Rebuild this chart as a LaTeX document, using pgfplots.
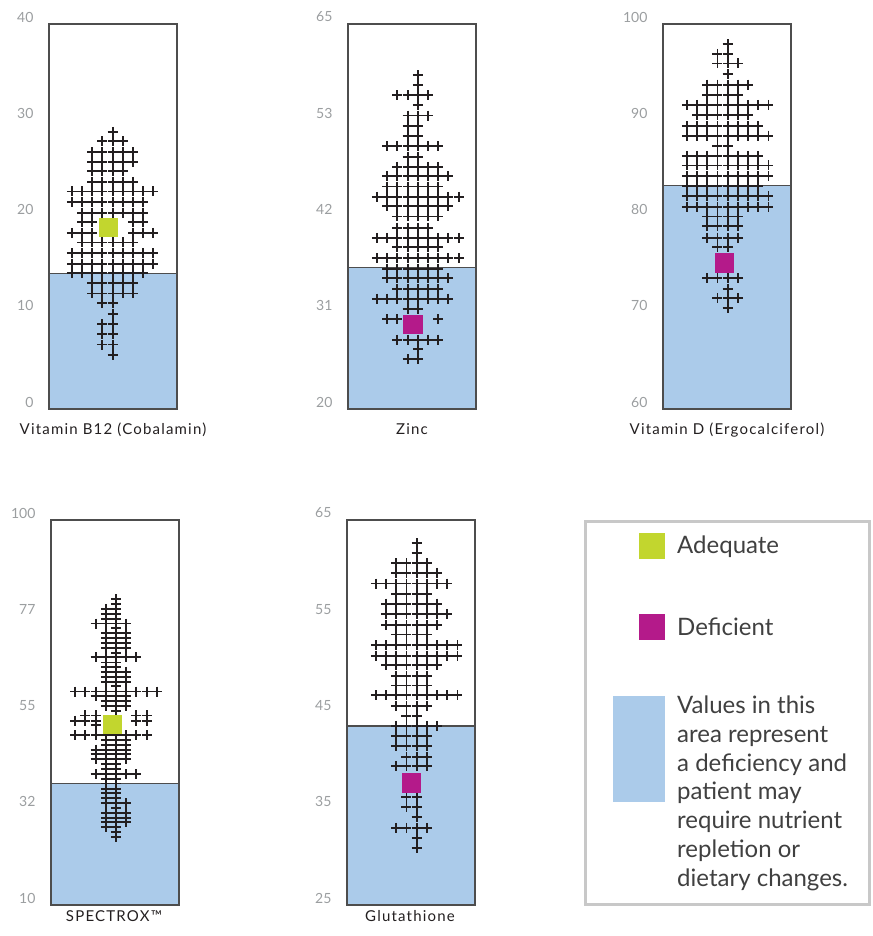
\documentclass[border=0pt]{standalone}
\usepackage{pgfplots}
\pgfplotsset{compat=1.18}
\usepackage{fontspec}
\setmainfont{Lato}
\newfontfamily\titlefont[LetterSpace=8]{Lato}
\definecolor{defblue}{HTML}{ABCBEA}
\definecolor{adeq}{HTML}{C2D62E}
\definecolor{defic}{HTML}{B41A8A}
\definecolor{markcol}{HTML}{231F20}
\definecolor{framecol}{HTML}{4D4D4D}
\definecolor{tickcol}{HTML}{9B9EA0}
\definecolor{legborder}{HTML}{C8C8C8}
\definecolor{legtext}{HTML}{404040}
\pgfplotsset{
 panel/.style={scale only axis, width=128pt, height=385pt, anchor=south west, axis on top,
   xtick=\empty, major tick length=0pt, clip=true,
   axis line style={draw=framecol, line width=1.2pt},
   yticklabel style={font=\fontsize{14}{16}\selectfont, text=tickcol, xshift=-12pt, yshift=7pt}},
 crosses/.style={only marks, mark=+, mark size=5pt, draw=markcol, line width=1.9pt,
   mark options={draw=markcol, line width=1.9pt, solid}},
 patient/.style={only marks, mark=square*, mark size=9.2pt, draw=#1, fill=#1, line width=0.6pt,
   mark options={fill=#1, draw=#1, line width=0.6pt, solid}},
 deficit/.style={fill=defblue, draw=none},
 dline/.style={draw=framecol, line width=1.2pt},
}
\begin{document}
\begin{tikzpicture}
\path[use as bounding box] (0pt,0pt) rectangle (872pt,936pt);

% ---------- Vitamin B12 ----------
\begin{axis}[panel, at={(49pt,527pt)}, xmin=-6.24, xmax=6.31, ymin=0, ymax=40,
  ytick={0,10,20,30,40}, yticklabels={0,10,20,30,40}]
\addplot[deficit] coordinates {(-10,0) (10,0) (10,14.1) (-10,14.1) (-10,0)};
\addplot[dline] coordinates {(-10,14.1) (10,14.1)};
\addplot[crosses] coordinates {
(0,28.8)
(-1,27.8)(0,27.8)(1,27.8)
(-2,26.7)(-1,26.7)(0,26.7)(1,26.7)(2,26.7)
(-2,25.7)(-1,25.7)(0,25.7)(1,25.7)(2,25.7)
(-2,24.7)(-1,24.7)(0,24.7)(1,24.7)
(-2,23.6)(-1,23.6)(0,23.6)(1,23.6)(2,23.6)
(-4,22.6)(-3,22.6)(-2,22.6)(-1,22.6)(0,22.6)(1,22.6)(2,22.6)(3,22.6)(4,22.6)
(-4,21.5)(-3,21.5)(-2,21.5)(-1,21.5)(0,21.5)(1,21.5)(2,21.5)(3,21.5)
(-3,20.4)(-2,20.4)(-1,20.4)(0,20.4)(1,20.4)(2,20.4)(3,20.4)
(-3,19.4)(-2,19.4)(2,19.4)(3,19.4)
(-4,18.3)(-3,18.3)(-2,18.3)(2,18.3)(3,18.3)(4,18.3)
(-3,17.3)(-2,17.3)(-1,17.3)(0,17.3)(1,17.3)(2,17.3)
(-4,16.2)(-3,16.2)(-2,16.2)(-1,16.2)(0,16.2)(1,16.2)(2,16.2)(3,16.2)(4,16.2)
(-4,15.1)(-3,15.1)(-2,15.1)(-1,15.1)(0,15.1)(1,15.1)(2,15.1)(3,15.1)(4,15.1)
(-4,14.1)(-3,14.1)(-2,14.1)(-1,14.1)(0,14.1)(1,14.1)(2,14.1)(3,14.1)
(-2,13.1)(-1,13.1)(0,13.1)(1,13.1)(2,13.1)
(-2,12.0)(-1,12.0)(0,12.0)(1,12.0)(2,12.0)
(-1,11.0)(0,11.0)
(0,9.9)
(-1,8.8)(0,8.8)
(-1,7.8)(0,7.8)
(-1,6.7)(0,6.7)
(0,5.6)
};
\addplot[patient=adeq] coordinates {(-0.45,18.9)};
\end{axis}

% ---------- Zinc ----------
\begin{axis}[panel, at={(348pt,527pt)}, xmin=-6.84, xmax=5.70, ymin=20, ymax=65,
  ytick={20,31.25,42.5,53.75,65}, yticklabels={20,31,42,53,65}]
\addplot[deficit] coordinates {(-10,20) (10,20) (10,36.5) (-10,36.5) (-10,20)};
\addplot[dline] coordinates {(-10,36.5) (10,36.5)};
\addplot[crosses] coordinates {
(0,59.0)
(0,57.9)
(-2,56.7)(-1,56.7)(0,56.7)(1,56.7)
(0,55.5)
(-1,54.3)(0,54.3)(1,54.3)
(-1,53.1)(0,53.1)
(-1,51.9)(0,51.9)
(-3,50.7)(-2,50.7)(-1,50.7)(0,50.7)(1,50.7)(2,50.7)
(-1,49.5)(0,49.5)
(-2,48.3)(-1,48.3)(0,48.3)(1,48.3)(2,48.3)
(-3,47.2)(-2,47.2)(-1,47.2)(0,47.2)(1,47.2)(2,47.2)(3,47.2)
(-3,46.0)(-2,46.0)(-1,46.0)(0,46.0)(1,46.0)(2,46.0)
(-4,44.8)(-3,44.8)(-2,44.8)(-1,44.8)(0,44.8)(1,44.8)(2,44.8)(3,44.8)(4,44.8)
(-3,43.7)(-2,43.7)(-1,43.7)(0,43.7)(1,43.7)(2,43.7)(3,43.7)
(-2,42.5)(-1,42.5)(0,42.5)(1,42.5)(2,42.5)
(-2,41.2)(-1,41.2)(0,41.2)(1,41.2)
(-4,40.0)(-3,40.0)(-2,40.0)(-1,40.0)(0,40.0)(1,40.0)(2,40.0)(3,40.0)(4,40.0)
(-2,38.9)(-1,38.9)(0,38.9)(1,38.9)(2,38.9)
(-4,37.6)(-3,37.6)(-2,37.6)(-1,37.6)(0,37.6)(1,37.6)(2,37.6)(3,37.6)(4,37.6)
(-3,36.4)(-2,36.4)(-1,36.4)(0,36.4)(1,36.4)(2,36.4)
(-3,35.3)(-2,35.3)(-1,35.3)(0,35.3)(1,35.3)(2,35.3)(3,35.3)
(-2,34.0)(-1,34.0)(0,34.0)(1,34.0)(2,34.0)
(-4,32.9)(-3,32.9)(-2,32.9)(-1,32.9)(0,32.9)(1,32.9)(2,32.9)(3,32.9)
(-1,31.7)(0,31.7)
(-3,30.5)(-2,30.5)(2,30.5)
(-2,28.1)(-1,28.1)(0,28.1)(1,28.1)(2,28.1)
(0,27.0)
(-1,25.8)(0,25.8)
};
\addplot[patient=defic] coordinates {(-0.49,29.9)};
\end{axis}

% ---------- Vitamin D ----------
\begin{axis}[panel, at={(663pt,527pt)}, xmin=-6.34, xmax=6.21, ymin=60, ymax=100,
  ytick={60,70,80,90,100}, yticklabels={60,70,80,90,100}]
\addplot[deficit] coordinates {(-10,60) (10,60) (10,83.2) (-10,83.2) (-10,60)};
\addplot[dline] coordinates {(-10,83.2) (10,83.2)};
\addplot[crosses] coordinates {
(0,97.9)
(-1,96.9)(0,96.9)
(-1,95.9)(0,95.9)(1,95.9)
(0,94.8)
(-2,93.7)(-1,93.7)(0,93.7)(1,93.7)(2,93.7)
(-2,92.6)(-1,92.6)(0,92.6)(1,92.6)
(-4,91.6)(-3,91.6)(-2,91.6)(-1,91.6)(0,91.6)(1,91.6)(2,91.6)(3,91.6)(4,91.6)
(-3,90.5)(-2,90.5)(-1,90.5)(0,90.5)(1,90.5)(2,90.5)
(-4,89.4)(-3,89.4)(-2,89.4)(-1,89.4)(0,89.4)(1,89.4)(2,89.4)(3,89.4)
(-4,88.4)(-3,88.4)(-2,88.4)(-1,88.4)(0,88.4)(1,88.4)(2,88.4)(3,88.4)(4,88.4)
(-1,87.3)(0,87.3)
(-4,86.3)(-3,86.3)(-2,86.3)(-1,86.3)(0,86.3)(1,86.3)(2,86.3)(3,86.3)
(-4,85.3)(-3,85.3)(-2,85.3)(-1,85.3)(0,85.3)(1,85.3)(2,85.3)(3,85.3)(4,85.3)
(-4,84.2)(-3,84.2)(-2,84.2)(-1,84.2)(0,84.2)(1,84.2)(2,84.2)(3,84.2)(4,84.2)
(-4,83.2)(-3,83.2)(-2,83.2)(-1,83.2)(0,83.2)(1,83.2)(2,83.2)(3,83.2)
(-4,82.1)(-3,82.1)(-2,82.1)(-1,82.1)(0,82.1)(1,82.1)(2,82.1)(3,82.1)(4,82.1)
(-4,81.0)(-3,81.0)(-2,81.0)(-1,81.0)(0,81.0)(1,81.0)(2,81.0)(3,81.0)(4,81.0)
(-2,80.0)(-1,80.0)(0,80.0)(1,80.0)
(-2,79.0)(-1,79.0)(0,79.0)(1,79.0)
(-2,77.8)(-1,77.8)(0,77.8)(1,77.8)
(-1,76.8)(0,76.8)
(-2,73.6)(-1,73.6)(0,73.6)(1,73.6)
(0,72.5)
(-1,71.5)(0,71.5)(1,71.5)
(0,70.5)
};
\addplot[patient=defic] coordinates {(-0.33,75.2)};
\end{axis}

% ---------- SPECTROX ----------
\begin{axis}[panel, at={(51pt,31pt)}, xmin=-6.37, xmax=6.18, ymin=10, ymax=100,
  ytick={10,32.5,55,77.5,100}, yticklabels={10,32,55,77,100}]
\addplot[deficit] coordinates {(-10,10) (10,10) (10,38.4) (-10,38.4) (-10,10)};
\addplot[dline] coordinates {(-10,38.4) (10,38.4)};
\addplot[crosses] coordinates {
(0,81.5)
(0,80.3)
(-1,79.2)(0,79.2)
(-1,78.1)(0,78.1)
(-1,76.9)(0,76.9)
(-2,75.8)(-1,75.8)(0,75.8)(1,75.8)
(0,74.7)
(-1,73.5)(0,73.5)(1,73.5)
(-1,72.4)(0,72.4)(1,72.4)
(-1,71.3)(0,71.3)(1,71.3)
(-1,70.1)(0,70.1)(1,70.1)
(0,69.0)
(-2,67.9)(-1,67.9)(0,67.9)(1,67.9)(2,67.9)
(-1,66.7)(0,66.7)
(-1,65.6)(0,65.6)
(-1,64.5)(0,64.5)(1,64.5)
(-1,63.3)(0,63.3)(1,63.3)
(-1,62.2)(0,62.2)(1,62.2)
(0,61.1)
(-4,59.9)(-3,59.9)(-2,59.9)(-1,59.9)(0,59.9)(1,59.9)(2,59.9)(3,59.9)(4,59.9)
(-2,58.8)(-1,58.8)(0,58.8)(1,58.8)
(-1,57.6)(0,57.6)(1,57.6)
(-1,56.5)(0,56.5)(1,56.5)
(0,55.4)
(-3,54.3)(-2,54.3)(2,54.3)(3,54.3)
(-4,53.1)(-3,53.1)(-2,53.1)(2,53.1)(3,53.1)
(-2,52.0)
(-4,49.7)(-3,49.7)(-2,49.7)(-1,49.7)(0,49.7)(1,49.7)(2,49.7)(3,49.7)
(-1,48.6)(0,48.6)(1,48.6)
(-1,47.5)(0,47.5)(1,47.5)
(-2,46.3)(-1,46.3)(0,46.3)(1,46.3)
(-2,45.2)(-1,45.2)(0,45.2)(1,45.2)
(-2,44.1)(-1,44.1)(0,44.1)(1,44.1)
(-1,42.9)(0,42.9)
(-1,41.8)(0,41.8)
(-2,40.6)(-1,40.6)(0,40.6)(1,40.6)(2,40.6)
(-1,39.5)(0,39.5)
(-1,38.4)(0,38.4)
(-1,37.2)(0,37.2)
(-1,36.1)(0,36.1)
(-1,35.0)(0,35.0)
(-1,33.8)(0,33.8)(1,33.8)
(0,32.7)
(-1,31.6)(0,31.6)(1,31.6)
(-1,30.4)(0,30.4)(1,30.4)
(-1,29.3)(0,29.3)(1,29.3)
(-1,28.2)(0,28.2)
(0,27.0)
(0,25.9)
};
\addplot[patient=adeq] coordinates {(-0.37,52.3)};
\end{axis}

% ---------- Glutathione ----------
\begin{axis}[panel, at={(347pt,31pt)}, xmin=-6.83, xmax=5.72, ymin=25, ymax=65,
  ytick={25,35,45,55,65}, yticklabels={25,35,45,55,65}]
\addplot[deficit] coordinates {(-10,25) (10,25) (10,43.6) (-10,43.6) (-10,25)};
\addplot[dline] coordinates {(-10,43.6) (10,43.6)};
\addplot[crosses] coordinates {
(0,62.6)
(0,61.6)
(-2,60.5)(-1,60.5)(0,60.5)(1,60.5)
(-2,59.5)(-1,59.5)(0,59.5)(1,59.5)(2,59.5)
(-4,58.4)(-3,58.4)(-2,58.4)(-1,58.4)(0,58.4)(1,58.4)(2,58.4)(3,58.4)
(-2,57.3)(-1,57.3)(0,57.3)(1,57.3)
(-3,56.3)(-2,56.3)(-1,56.3)(0,56.3)(1,56.3)(2,56.3)
(-3,55.2)(-2,55.2)(-1,55.2)(0,55.2)(1,55.2)(2,55.2)(3,55.2)
(-3,54.1)(-2,54.1)(-1,54.1)(0,54.1)(1,54.1)(2,54.1)
(-2,53.1)(-1,53.1)(0,53.1)(1,53.1)
(-4,52.0)(-3,52.0)(-2,52.0)(-1,52.0)(0,52.0)(1,52.0)(2,52.0)(3,52.0)(4,52.0)
(-4,50.9)(-3,50.9)(-2,50.9)(-1,50.9)(0,50.9)(1,50.9)(2,50.9)(3,50.9)(4,50.9)
(-3,49.9)(-2,49.9)(-1,49.9)(0,49.9)(1,49.9)(2,49.9)
(-2,48.8)(-1,48.8)(0,48.8)(1,48.8)
(-2,47.8)(-1,47.8)(0,47.8)(1,47.8)
(-4,46.8)(-3,46.8)(-2,46.8)(-1,46.8)(0,46.8)(1,46.8)(2,46.8)(3,46.8)(4,46.8)
(-2,45.7)(-1,45.7)(0,45.7)(1,45.7)
(-1,44.6)(0,44.6)
(-2,43.6)(-1,43.6)(0,43.6)(1,43.6)(2,43.6)
(-2,42.6)(-1,42.6)(0,42.6)(1,42.6)
(-2,41.5)(-1,41.5)(0,41.5)(1,41.5)
(-1,40.4)(0,40.4)(1,40.4)
(-2,39.4)(-1,39.4)(0,39.4)(1,39.4)
(-1,36.2)(0,36.2)
(-1,35.2)(0,35.2)
(0,34.1)
(-2,33.0)(-1,33.0)(0,33.0)(1,33.0)
(0,32.0)
(0,30.9)
};
\addplot[patient=defic] coordinates {(-0.5,37.7)};
\end{axis}

% ---------- titles ----------
\begin{scope}[every node/.style={anchor=base, text=markcol, font=\titlefont\fontsize{15}{18}\selectfont}]
\node at (113pt,501pt) {Vitamin B12 (Cobalamin)};
\node at (412pt,501pt) {Zinc};
\node at (727pt,501pt) {Vitamin D (Ergocalciferol)};
\node at (114pt,14pt) {SPECTROX™};
\node at (410pt,14pt) {Glutathione};
\end{scope}

% ---------- legend ----------
\draw[legborder, line width=3pt] (585.5pt,31.5pt) rectangle (869pt,414.5pt);
\fill[adeq] (639pt,377pt) rectangle (665pt,403pt);
\fill[defic] (639pt,296pt) rectangle (665pt,322pt);
\fill[defblue] (612.7pt,134.3pt) rectangle (665pt,240pt);
\begin{scope}[every node/.style={anchor=base west, inner sep=0pt, text=legtext, font=\fontsize{24}{29}\selectfont}]
\node at (677pt,382.7pt) {Adequate};
\node at (677pt,300pt) {Deficient};
\node at (677pt,222.7pt) {Values in this};
\node at (677pt,193.8pt) {area represent};
\node at (677pt,164.9pt) {a deficiency and};
\node at (677pt,136pt) {patient may};
\node at (677pt,107.1pt) {require nutrient};
\node at (677pt,78.2pt) {repletion or};
\node at (677pt,49.3pt) {dietary changes.};
\end{scope}
\end{tikzpicture}
\end{document}
